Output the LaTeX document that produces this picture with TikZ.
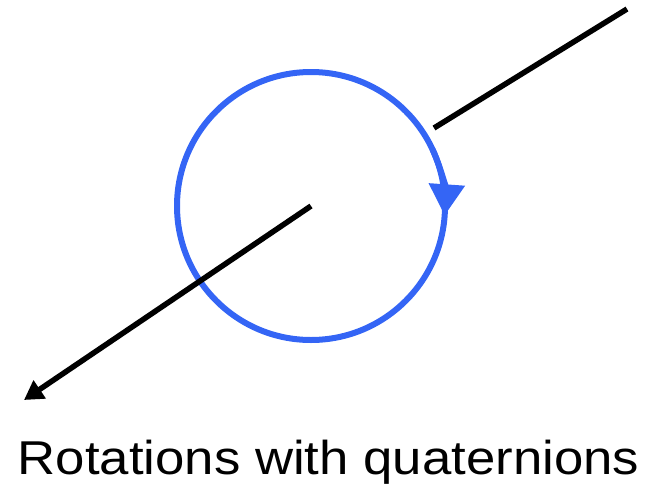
\documentclass[tikz,border=0pt]{standalone}
\usepackage{fontspec}
\setmainfont{Liberation Sans}
\usetikzlibrary{arrows.meta}
\definecolor{ringblue}{RGB}{52,101,245}

\begin{document}
\begin{tikzpicture}[x=1pt,y=-1pt]
  \tikzstyle{axis}=[line width=5.5pt]
  \tikzstyle{ring}=[line width=6pt,draw=ringblue]
  \useasboundingbox (0,0) rectangle (654,485);
  \coordinate (c) at (311,206);
  \coordinate (top) at (627,9);
  \coordinate (rim) at (434,128);
  \coordinate (end) at (24,400);
  \draw[ring] (c) circle (134);
  \draw[ring,-{Triangle[length=31pt,width=35pt]}] (c) ++(-25:134) arc[start angle=-25,end angle=4,radius=134];
  \draw[axis] (top) -- (rim);
  \draw[axis,-{Triangle[length=19pt,width=21pt]}] (c) -- (end);
  \node[anchor=base,font=\fontsize{47.5}{56}\selectfont,inner sep=0pt,xscale=1.11,transform shape] (title) at (328.5,474) {Rotations with quaternions};
\end{tikzpicture}
\end{document}
